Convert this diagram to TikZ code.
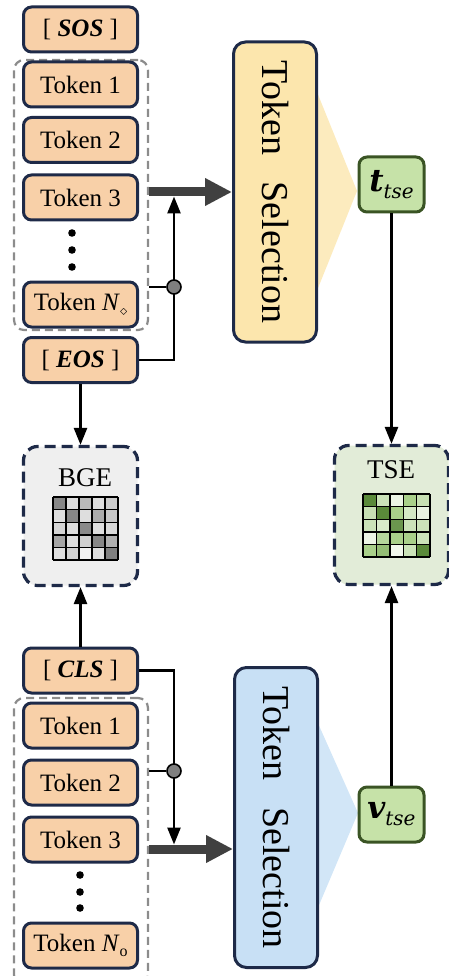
\documentclass[tikz,border=0pt]{standalone}
\usepackage{fontspec}
\setmainfont{Liberation Serif}
\newfontfamily\mfont{DejaVu Serif}
\usetikzlibrary{arrows.meta,calc}
\definecolor{navy}{HTML}{1E2A48}
\definecolor{peach}{HTML}{F8D0A8}
\definecolor{ybox}{HTML}{FCE6AD}
\definecolor{yfan}{HTML}{FCEBBE}
\definecolor{bbox}{HTML}{C8E0F5}
\definecolor{bfan}{HTML}{D2E6F7}
\definecolor{gbox}{HTML}{C6E2A8}
\definecolor{gline}{HTML}{3A5424}
\definecolor{bgefill}{HTML}{EFEFEF}
\definecolor{tsefill}{HTML}{E2ECD8}
\definecolor{grpgray}{HTML}{8C8C8C}
\definecolor{thickc}{HTML}{404040}
\definecolor{G}{HTML}{5A8A3A}
\definecolor{LG}{HTML}{A9D08A}
\definecolor{juncgray}{HTML}{7F7F7F}
\begin{document}
\begin{tikzpicture}[x=1pt,y=-1pt,
  tok/.style={draw=navy, line width=3pt, fill=peach, rounded corners=8pt,
    minimum width=114pt, minimum height=45pt, inner sep=0pt,
    font=\fontsize{25}{25}\selectfont},
  grp/.style={draw=grpgray, line width=2.2pt, dash pattern=on 8pt off 5pt,
    rounded corners=10pt, minimum width=134pt, inner sep=0pt},
  selbox/.style={draw=navy, line width=3pt, rounded corners=12pt,
    minimum width=83pt, minimum height=300pt, inner sep=0pt,
    font=\fontsize{38}{38}\selectfont},
  gsm/.style={draw=gline, line width=3pt, fill=gbox, rounded corners=8pt,
    minimum width=65pt, minimum height=55pt, inner sep=0pt,
    font=\fontsize{31}{31}\selectfont},
  simbox/.style={draw=navy, line width=3.2pt, dash pattern=on 11pt off 6pt,
    rounded corners=14pt, minimum width=114pt, minimum height=139pt, inner sep=0pt},
  simlabel/.style={font=\fontsize{27}{27}\selectfont, inner sep=0pt},
  thinarr/.style={draw=black, line width=2.6pt, -{Triangle[length=17pt,width=13pt]}},
  thinline/.style={draw=black, line width=2.6pt},
  thickarr/.style={draw=thickc, line width=9pt, -{Triangle[length=27pt,width=26pt]}},
  junc/.style={circle, draw=black, line width=1.6pt, fill=juncgray, minimum size=14pt, inner sep=0pt},
  dotf/.style={fill=black}
]
\useasboundingbox (0,0) rectangle (449,976);

% ---------- top (text) branch ----------
\node[grp, minimum height=270pt] (grp1) at (81,195) {};
\node[tok] (sos) at (80.5,29.5) {[ \textbf{\textit{SOS}} ]};
\node[tok] (t1) at (80.5,84.5) {Token 1};
\node[tok] (t2) at (80.5,140) {Token 2};
\node[tok] (t3) at (80.5,197.5) {Token 3};
\fill[dotf] (72,233) circle[radius=3.8pt] (72,250) circle[radius=3.8pt] (72,267) circle[radius=3.8pt];
\node[tok] (tn) at (80.5,304.5) {Token \textit{N}\raisebox{-5pt}{\fontsize{15}{15}\selectfont$\diamond$}};
\node[tok] (eos) at (80.5,360) {[ \textbf{\textit{EOS}} ]};

\fill[yfan] (300,50) -- (357,191) -- (300,333) -- cycle;
\node[selbox, fill=ybox] (ysel) at (275,192) {\rotatebox{-90}{Token\hspace{0.45em} Selection}};
\node[gsm] (tt) at (391.5,184.5) {{\mfont\bfseries\itshape t}\raisebox{-7pt}{\fontsize{20}{20}\selectfont\mfont\itshape tse}};

\draw[thickarr] (grp1.east |- ysel.west) -- (ysel.west);
\draw[thinarr] (eos.east) -| (174,196.5);
\node[junc] (j1) at (174,287) {};
\draw[thinline] (grp1.east |- j1) -- (j1);

% ---------- similarity boxes ----------
\node[simbox, fill=bgefill] (bge) at (80.5,516) {};
\node[simlabel] (bgel) at (85,478) {BGE};
\node[simbox, fill=tsefill] (tse) at (391.5,515) {};
\node[simlabel] (tsel) at (391,470) {TSE};

\foreach \v [count=\k from 0] in {47,13,27,13,20, 13,47,13,33,22, 16,13,46,13,15, 35,13,18,47,31, 13,18,5,13,50} {
  \pgfmathtruncatemacro\cc{mod(\k,5)}
  \pgfmathtruncatemacro\rr{div(\k,5)}
  \fill[black!\v] ({53+\cc*13},{497+\rr*12.6}) rectangle ++(13,12.6);
}
\foreach \i in {0,...,5} {
  \draw[line width=1.4pt] ({53+13*\i},497) -- ({53+13*\i},560);
  \draw[line width=1.4pt] (53,{497+12.6*\i}) -- (118,{497+12.6*\i});
}
\foreach \v [count=\k from 0] in {G,LG!60,LG!22,LG,LG!65, LG!65,G,LG,LG!50,LG!25, LG!60,LG!45,G!90,LG!60,LG!60, LG!22,LG!85,LG,LG,LG!60, LG,LG!75!G,LG!15,LG!60,G} {
  \pgfmathtruncatemacro\cc{mod(\k,5)}
  \pgfmathtruncatemacro\rr{div(\k,5)}
  \fill[\v] ({363+\cc*13.4},{494+\rr*12.6}) rectangle ++(13.4,12.6);
}
\foreach \i in {0,...,5} {
  \draw[line width=1.4pt] ({363+13.4*\i},494) -- ({363+13.4*\i},557);
  \draw[line width=1.4pt] (363,{494+12.6*\i}) -- (430,{494+12.6*\i});
}

\draw[thinarr] (eos.south) -- (bge.north);
\draw[thinarr] (tt.south) -- (tse.north);

% ---------- bottom (image) branch ----------
\node[grp, minimum height=287pt] (grp2) at (81,841.5) {};
\node[tok] (cls) at (80.5,670.5) {[ \textbf{\textit{CLS}} ]};
\node[tok] (v1) at (80.5,725.5) {Token 1};
\node[tok] (v2) at (80.5,782.5) {Token 2};
\node[tok] (v3) at (80.5,839.5) {Token 3};
\fill[dotf] (80,875) circle[radius=3.8pt] (80,892) circle[radius=3.8pt] (80,908) circle[radius=3.8pt];
\node[tok] (vn) at (80.5,945.5) {Token \textit{N}\raisebox{-5pt}{\fontsize{16}{16}\selectfont o}};

\fill[bfan] (300,683) -- (358,813) -- (300,950) -- cycle;
\node[selbox, fill=bbox] (bsel) at (276,817.5) {\rotatebox{-90}{Token\hspace{0.45em} Selection}};
\node[gsm] (vt) at (391.5,814.5) {{\mfont\bfseries\itshape v}\raisebox{-7pt}{\fontsize{20}{20}\selectfont\mfont\itshape tse}};

\draw[thickarr] (grp2.east |- 0,849) -- (bsel.west |- 0,849);
\draw[thinarr] (cls.east) -| (174,844.5);
\node[junc] (j2) at (174,771) {};
\draw[thinline] (grp2.east |- j2) -- (j2);

\draw[thinarr] (cls.north) -- (bge.south);
\draw[thinarr] (vt.north) -- (tse.south);
\end{tikzpicture}
\end{document}
